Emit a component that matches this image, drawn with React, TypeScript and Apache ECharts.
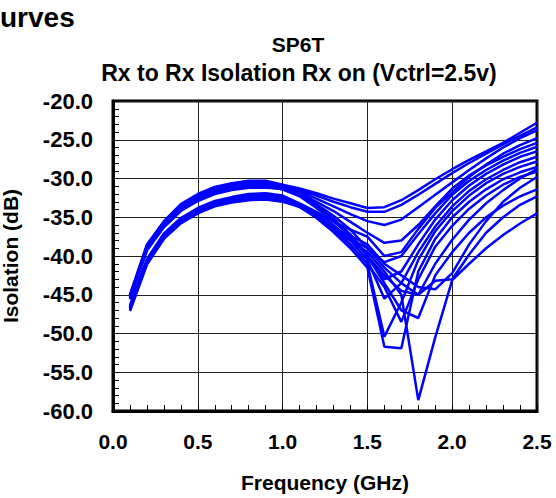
import React, { useEffect, useRef } from "react";
import * as echarts from "echarts";

const freq = [0.1, 0.2, 0.3, 0.4, 0.5, 0.6, 0.7, 0.8, 0.9, 1.0, 1.1, 1.2, 1.3, 1.4, 1.5, 1.6, 1.7, 1.8, 1.9, 2.0, 2.1, 2.2, 2.3, 2.4, 2.5];

const c1 = [-45.0, -38.5, -35.5, -33.3, -32.0, -31.1, -30.6, -30.3, -30.3, -30.8, -31.3, -31.9, -32.6, -33.2, -33.8, -33.7, -32.8, -31.5, -30.1, -28.8, -27.6, -26.5, -25.4, -24.1, -22.8];
const c2 = [-45.1, -38.7, -35.7, -33.5, -32.2, -31.3, -30.8, -30.5, -30.5, -30.9, -31.5, -32.2, -33.0, -33.7, -34.3, -34.3, -33.4, -32.1, -30.7, -29.3, -28.0, -26.8, -25.6, -24.5, -23.4];
const c3 = [-45.2, -38.8, -35.8, -33.6, -32.3, -31.4, -30.9, -30.6, -30.6, -31.0, -31.7, -32.6, -33.6, -34.6, -35.5, -36.0, -35.3, -33.7, -32.1, -30.5, -28.9, -27.4, -26.0, -24.8, -23.8];
const c4 = [-45.3, -38.9, -35.9, -33.7, -32.4, -31.5, -31.0, -30.7, -30.7, -31.1, -31.9, -33.0, -34.2, -35.6, -37.0, -38.3, -38.0, -36.0, -33.6, -31.3, -29.6, -28.3, -27.2, -26.2, -25.4];
const c5 = [-45.4, -39.1, -36.1, -34.0, -32.7, -31.8, -31.3, -31.0, -31.0, -31.3, -32.0, -33.3, -34.8, -36.6, -39.0, -40.8, -40.0, -37.2, -34.5, -32.1, -30.3, -28.9, -27.7, -26.7, -25.9];
const c6 = [-45.5, -39.2, -36.2, -34.1, -32.8, -31.9, -31.4, -31.1, -31.1, -31.4, -32.2, -33.6, -35.3, -37.3, -40.0, -43.0, -42.0, -38.5, -35.3, -32.8, -30.9, -29.4, -28.2, -27.2, -26.5];
const c7 = [-46.6, -40.6, -37.3, -35.3, -34.0, -33.1, -32.6, -32.2, -32.1, -32.4, -33.3, -34.5, -36.0, -38.0, -40.5, -45.5, -43.5, -39.5, -36.2, -33.6, -31.6, -30.1, -28.9, -27.9, -27.2];
const c8 = [-46.8, -40.8, -37.5, -35.5, -34.2, -33.3, -32.8, -32.4, -32.3, -32.6, -33.5, -34.8, -36.5, -38.6, -41.0, -50.4, -46.0, -40.5, -36.8, -34.2, -32.2, -30.6, -29.4, -28.5, -27.8];
const c9 = [-47.0, -41.0, -37.7, -35.7, -34.4, -33.5, -33.0, -32.7, -32.6, -32.9, -33.6, -35.1, -36.9, -39.0, -41.5, -51.7, -51.9, -42.0, -37.8, -35.0, -33.0, -31.4, -30.1, -29.2, -28.5];
const c10 = [-46.7, -40.7, -37.4, -35.4, -34.1, -33.2, -32.7, -32.3, -32.2, -32.5, -33.4, -34.8, -36.5, -38.5, -41.0, -44.0, -48.5, -43.0, -38.8, -36.1, -33.9, -32.2, -30.8, -29.8, -29.1];
const c11 = [-45.3, -39.0, -36.0, -33.9, -32.6, -31.7, -31.2, -31.0, -31.0, -31.4, -32.3, -33.8, -35.5, -37.5, -40.0, -43.5, -47.0, -48.0, -42.5, -39.5, -37.0, -35.0, -33.5, -32.3, -31.4];
const c12 = [-45.6, -39.3, -36.3, -34.2, -32.9, -32.0, -31.5, -31.2, -31.2, -31.3, -32.1, -33.5, -35.2, -37.2, -40.0, -42.5, -44.5, -45.0, -41.0, -37.9, -35.3, -33.2, -31.5, -30.0, -28.8];
const c13 = [-46.9, -40.9, -37.6, -35.6, -34.3, -33.4, -32.9, -32.5, -32.4, -32.9, -33.7, -35.0, -36.5, -38.0, -39.5, -42.0, -45.0, -58.6, -50.5, -43.1, -41.0, -39.0, -37.3, -35.8, -34.5];
const c14 = [-47.1, -41.1, -37.8, -35.8, -34.5, -33.6, -33.1, -32.8, -32.7, -33.0, -33.6, -35.0, -36.6, -37.8, -39.0, -41.5, -43.5, -45.0, -43.2, -43.0, -39.8, -37.0, -35.0, -33.4, -32.3];
const c15 = [-46.5, -40.5, -37.2, -35.2, -33.9, -33.0, -32.5, -32.1, -32.0, -32.5, -33.5, -34.9, -36.3, -37.4, -38.5, -41.0, -42.5, -44.0, -44.3, -42.2, -38.5, -35.5, -33.0, -31.2, -29.8];
const c16 = [-46.4, -40.4, -37.1, -35.1, -33.8, -32.9, -32.4, -32.0, -31.9, -32.2, -33.2, -34.3, -35.6, -36.6, -37.5, -40.0, -39.5, -36.5, -33.8, -31.8, -29.8, -28.2, -26.8, -25.7, -24.8];

const curves = [c1, c2, c3, c4, c5, c6, c7, c8, c9, c10, c11, c12, c13, c14, c15, c16];

const FONT = "'Liberation Sans', Arial, Helvetica, sans-serif";

export default function App() {
  const ref = useRef<HTMLDivElement>(null);
  useEffect(() => {
    const chart = echarts.init(ref.current as HTMLDivElement, null, { renderer: "svg" });
    chart.setOption({
      animation: false,
      backgroundColor: "#ffffff",
      title: [
        {
          text: "SP6T",
          left: 298,
          top: 34,
          textAlign: "center",
          padding: 0,
          textStyle: { fontFamily: FONT, fontSize: 21, fontWeight: "bold", color: "#000" },
        },
        {
          text: "Rx to Rx Isolation Rx on (Vctrl=2.5v)",
          left: 299,
          top: 61,
          textAlign: "center",
          padding: 0,
          textStyle: { fontFamily: FONT, fontSize: 23, fontWeight: "bold", color: "#000" },
        },
      ],
      graphic: [
        {
          type: "text",
          x: 0,
          y: 17,
          style: {
            text: "urves",
            textAlign: "left",
            align: "left",
            textVerticalAlign: "middle",
            verticalAlign: "middle",
            font: "bold 28px 'Liberation Sans', Arial, sans-serif",
            fill: "#000",
          },
        },
      ],
      grid: {
        left: 113,
        right: 19,
        top: 101,
        bottom: 87,
        show: true,
        borderColor: "#000",
        borderWidth: 3,
        backgroundColor: "transparent",
        containLabel: false,
        outerBoundsMode: "none",
      },
      xAxis: {
        type: "value",
        min: 0,
        max: 2.5,
        interval: 0.5,
        name: "Frequency (GHz)",
        nameLocation: "middle",
        nameGap: 61,
        nameTextStyle: { fontFamily: FONT, fontSize: 21, fontWeight: "bold", color: "#000" },
        axisLine: { show: true, lineStyle: { color: "#000", width: 3 } },
        axisTick: { show: true, inside: true, length: 6, lineStyle: { color: "#000", width: 1 } },
        minorTick: { show: true, splitNumber: 5, length: 6, lineStyle: { color: "#000", width: 1 } },
        splitLine: { show: true, lineStyle: { color: "#222", width: 1 } },
        axisLabel: {
          margin: 20,
          fontFamily: FONT,
          fontSize: 21,
          fontWeight: "bold",
          color: "#000",
          formatter: (v: number) => v.toFixed(1),
        },
      },
      yAxis: {
        type: "value",
        min: -60,
        max: -20,
        interval: 5,
        name: "Isolation (dB)",
        nameLocation: "middle",
        nameGap: 92,
        nameRotate: 90,
        nameTextStyle: { fontFamily: FONT, fontSize: 21, fontWeight: "bold", color: "#000" },
        axisLine: { show: true, lineStyle: { color: "#000", width: 3 } },
        axisTick: { show: true, inside: true, length: 6, lineStyle: { color: "#000", width: 1 } },
        minorTick: { show: true, splitNumber: 5, length: 6, lineStyle: { color: "#000", width: 1 } },
        splitLine: { show: true, lineStyle: { color: "#222", width: 1 } },
        axisLabel: {
          margin: 20,
          fontFamily: FONT,
          fontSize: 22,
          fontWeight: "bold",
          color: "#000",
          formatter: (v: number) => v.toFixed(1),
        },
      },
      series: curves.map((c, i) => ({
        name: "S" + (i + 1),
        type: "line",
        data: freq.map((f, j) => [f, c[j]]),
        showSymbol: false,
        symbol: "none",
        lineStyle: { color: "#0000ff", width: 2.5 },
        itemStyle: { color: "#0000ff" },
        z: 3,
      })),
    });
    return () => chart.dispose();
  }, []);
  return (
    <div
      ref={ref}
      style={{ position: "fixed", left: 0, top: 0, width: 556, height: 498 }}
    />
  );
}
